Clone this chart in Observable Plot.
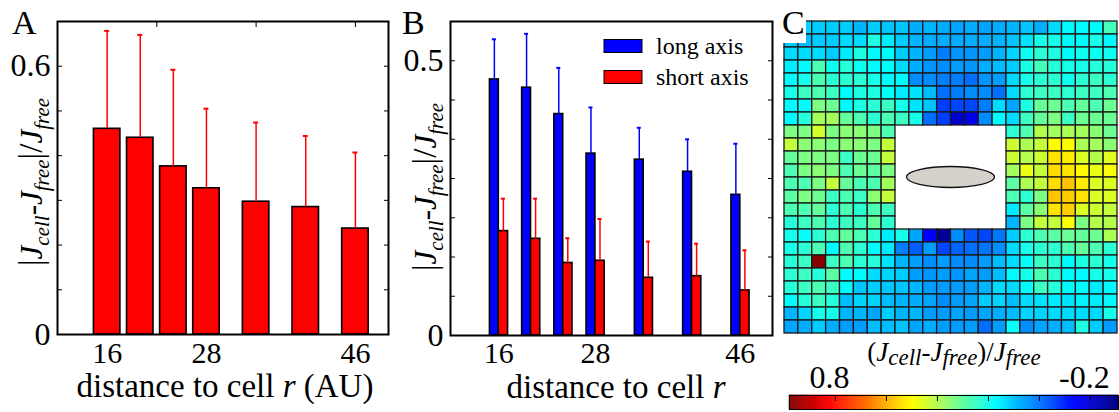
<!DOCTYPE html>
<html><head><meta charset="utf-8">
<script src="https://cdn.jsdelivr.net/npm/d3@7"></script>
<script src="https://cdn.jsdelivr.net/npm/@observablehq/plot@0.6"></script>
<style>
body{margin:0;background:#fff;}
#root{position:relative;width:1119px;height:412px;overflow:hidden;font-family:"Liberation Serif","Times New Roman",serif;background:#fff;}
#root svg{position:absolute;top:0;}
.letter{position:absolute;font-family:"Liberation Serif",serif;font-size:34px;line-height:1;background:#fff;color:#000;}
</style></head><body><div id="root"></div>
<script>
// ---------- data ----------
const distances = [16, 20, 24, 28, 34, 40, 46];
const xTickLabels = [16, 28, 46];
// Panel A: |Jcell-Jfree|/Jfree
const meanA = [0.460, 0.440, 0.376, 0.327, 0.297, 0.285, 0.237];
const errA  = [0.219, 0.230, 0.216, 0.178, 0.177, 0.159, 0.170];
// Panel B
const seriesNames = ["long axis", "short axis"];
const meanLong  = [0.466, 0.451, 0.403, 0.331, 0.320, 0.298, 0.256];
const errLong   = [0.073, 0.098, 0.084, 0.084, 0.058, 0.059, 0.093];
const meanShort = [0.190, 0.176, 0.132, 0.136, 0.105, 0.108, 0.082];
const errShort  = [0.059, 0.073, 0.045, 0.076, 0.066, 0.059, 0.073];
// Panel C: (Jcell-Jfree)/Jfree on a 24x24 grid (null = cell region)
const _ = null;
const heatRows = [
[0.12,0.12,0.11,0.11,0.11,0.08,0.11,0.10,0.10,0.07,0.08,0.07,0.06,0.07,0.06,0.07,0.08,0.10,0.07,0.13,0.17,0.17,0.17,0.26],
[0.11,0.09,0.11,0.11,0.13,0.13,0.21,0.15,0.11,0.08,0.07,0.07,0.07,0.07,0.07,0.08,0.10,0.14,0.20,0.20,0.17,0.17,0.20,0.17],
[0.13,0.13,0.13,0.11,0.15,0.21,0.17,0.17,0.11,0.08,0.05,0.01,0.04,0.04,0.05,0.08,0.12,0.19,0.23,0.21,0.17,0.19,0.19,0.19],
[0.15,0.17,0.27,0.19,0.22,0.19,0.17,0.17,0.13,0.07,0.04,0.03,0.05,0.04,0.07,0.09,0.11,0.21,0.26,0.22,0.20,0.20,0.22,0.22],
[0.17,0.20,0.27,0.23,0.23,0.23,0.20,0.17,0.17,0.03,0.03,0.01,0.01,-0.01,0.04,0.05,0.13,0.20,0.23,0.23,0.19,0.23,0.25,0.23],
[0.20,0.25,0.27,0.25,0.17,0.21,0.21,0.18,0.15,0.14,0.09,-0.01,0.01,0.03,0.03,-0.01,0.13,0.23,0.25,0.25,0.23,0.25,0.25,0.27],
[0.17,0.17,0.33,0.31,0.17,0.21,0.23,0.25,0.20,0.14,0.10,-0.07,-0.06,-0.06,0.01,0.13,0.06,0.21,0.30,0.31,0.27,0.30,0.27,0.31],
[0.17,0.22,0.38,0.38,0.30,0.27,0.23,0.27,0.25,0.20,-0.01,-0.07,-0.21,-0.17,0.03,0.17,0.13,0.25,0.30,0.33,0.25,0.31,0.31,0.31],
[0.33,0.33,0.44,0.33,0.35,0.35,0.33,0.27,_,_,_,_,_,_,_,_,0.23,0.27,0.40,0.38,0.39,0.38,0.35,0.31],
[0.42,0.35,0.35,0.33,0.35,0.35,0.33,0.42,_,_,_,_,_,_,_,_,0.43,0.39,0.42,0.50,0.50,0.39,0.38,0.35],
[0.30,0.33,0.33,0.33,0.25,0.31,0.31,0.42,_,_,_,_,_,_,_,_,0.43,0.40,0.43,0.53,0.52,0.45,0.40,0.46],
[0.27,0.33,0.35,0.33,0.27,0.31,0.29,0.33,_,_,_,_,_,_,_,_,0.38,0.47,0.42,0.54,0.53,0.50,0.47,0.49],
[0.27,0.27,0.33,0.42,0.30,0.27,0.27,0.38,_,_,_,_,_,_,_,_,0.29,0.39,0.42,0.54,0.57,0.52,0.45,0.45],
[0.29,0.33,0.31,0.25,0.27,0.25,0.35,0.42,_,_,_,_,_,_,_,_,0.27,0.23,0.33,0.57,0.56,0.53,0.45,0.45],
[0.27,0.27,0.30,0.23,0.27,0.23,0.27,0.25,_,_,_,_,_,_,_,_,0.15,0.29,0.35,0.53,0.56,0.45,0.43,0.42],
[0.22,0.25,0.27,0.23,0.25,0.25,0.30,0.23,_,_,_,_,_,_,_,_,0.08,0.33,0.42,0.42,0.49,0.33,0.40,0.40],
[0.20,0.18,0.23,0.27,0.30,0.27,0.23,0.15,0.20,0.06,-0.15,-0.28,0.03,-0.04,-0.06,0.00,0.11,0.23,0.27,0.29,0.31,0.30,0.31,0.39],
[0.20,0.23,0.27,0.17,0.27,0.23,0.17,0.15,0.01,-0.03,0.05,-0.06,-0.02,-0.01,0.00,0.03,0.13,0.20,0.23,0.23,0.27,0.30,0.27,0.23],
[0.22,0.25,0.97,0.25,0.27,0.23,0.22,0.14,0.08,0.05,0.03,0.05,0.03,0.03,0.05,0.09,0.13,0.18,0.25,0.23,0.17,0.21,0.23,0.20],
[0.23,0.25,0.22,0.29,0.17,0.17,0.13,0.12,0.11,0.05,0.04,0.05,0.04,0.06,0.05,0.09,0.17,0.20,0.27,0.23,0.17,0.17,0.20,0.20],
[0.22,0.25,0.27,0.25,0.17,0.10,0.11,0.10,0.10,0.08,0.05,0.05,0.05,0.05,0.08,0.13,0.13,0.17,0.25,0.22,0.17,0.17,0.15,0.17],
[0.17,0.22,0.25,0.22,0.09,0.12,0.12,0.09,0.08,0.07,0.06,0.03,0.05,0.06,0.11,0.12,0.09,0.13,0.14,0.15,0.14,0.16,0.15,0.17],
[0.08,0.12,0.20,0.20,0.08,0.08,0.06,0.11,0.08,0.08,0.05,0.05,0.06,0.05,0.06,0.07,0.09,0.12,0.12,0.13,0.13,0.13,0.13,0.20],
[0.06,0.07,0.11,0.07,0.05,0.05,0.09,0.09,0.10,0.06,0.07,0.05,0.05,0.05,-0.01,0.05,0.18,0.03,0.06,0.07,0.09,0.21,0.11,0.05]
];
const colorbarMax = 0.98, colorbarMin = -0.31;
const colorbarTickLabels = [0.8, -0.2];

// ---------- helpers ----------
const root = document.getElementById("root");
const SERIF = "Liberation Serif, Times New Roman, serif";
const fmt = d => d === 0 ? "0" : d3.format(".1f")(d);

function addYLabel(svg, x, yc) {
  const t = d3.select(svg).append("text")
    .attr("transform", `translate(${x},${yc}) rotate(-90)`)
    .attr("text-anchor", "middle").attr("font-family", SERIF).attr("font-size", 31).attr("fill", "#000");
  const parts = [["|", 0, false, 33], ["J", 0, true, 31], ["cell", 7, true, 21], ["-", -7, false, 31],
                 ["J", 0, true, 31], ["free", 7, true, 21], ["|/", -7, false, 33], ["J", 0, true, 31], ["free", 7, true, 21]];
  for (const [s, dy, it, fs] of parts) {
    t.append("tspan").attr("dy", dy).attr("font-style", it ? "italic" : "normal").attr("font-size", fs).text(s);
  }
}
function addText(svg, x, y, str, size, anchor = "start") {
  return d3.select(svg).append("text").attr("x", x).attr("y", y).attr("font-family", SERIF)
    .attr("font-size", size).attr("text-anchor", anchor).attr("fill", "#000").text(str);
}

// ---------- Panel A ----------
const dataA = distances.map((r, i) => ({r, m: meanA[i], e: errA[i]}));
const yTicksA = d3.range(0, 0.701, 0.1);
const plotA = Plot.plot({
  width: 392, height: 412, marginLeft: 57, marginRight: 4, marginTop: 21, marginBottom: 78,
  style: {fontFamily: SERIF, fontSize: "30px", color: "#000", background: "transparent", overflow: "visible"},
  x: {domain: [10, 50], label: null},
  y: {domain: [0, 0.7], label: null},
  marks: [
    Plot.rect(dataA, {x1: d => d.r - 1.6, x2: d => d.r + 1.6, y1: 0, y2: "m", fill: "#ff0000", stroke: "#000", strokeWidth: 1.6}),
    Plot.ruleX(dataA, {x: "r", y1: "m", y2: d => d.m + d.e, stroke: "#ff0000", strokeWidth: 1.5}),
    Plot.ruleY(dataA, {y: d => d.m + d.e, x1: d => d.r - 0.3, x2: d => d.r + 0.3, stroke: "#ff0000", strokeWidth: 2}),
    Plot.axisY({anchor: "left", ticks: [0, 0.6], tickSize: 0, tickPadding: 7, fontSize: 32, tickFormat: fmt}),
    Plot.axisY({anchor: "left", ticks: yTicksA, tickSize: -5, tickFormat: () => ""}),
    Plot.axisY({anchor: "right", ticks: yTicksA, tickSize: -5, tickFormat: () => ""}),
    Plot.axisX({anchor: "top", ticks: [22, 34, 46], tickSize: -5, tickFormat: () => ""}),
    Plot.axisX({anchor: "bottom", ticks: xTickLabels, tickSize: 0, tickPadding: 7, fontSize: 30}),
    Plot.frame({stroke: "#000", strokeWidth: 2})
  ]
});
plotA.style.left = "0px";
root.appendChild(plotA);
addYLabel(plotA, 42, 182);
addText(plotA, 225, 397, "", 33, "middle").call(t => {
  t.append("tspan").text("distance to cell ");
  t.append("tspan").attr("font-style", "italic").text("r");
  t.append("tspan").text(" (AU)");
});

// ---------- Panel B ----------
const dataB = distances.map((r, i) => ({r, ml: meanLong[i], el: errLong[i], ms: meanShort[i], es: errShort[i]}));
const yTicksB = d3.range(0, 0.58, 0.5 / 7);
const plotB = Plot.plot({
  width: 386, height: 412, marginLeft: 58, marginRight: 6, marginTop: 21, marginBottom: 77,
  style: {fontFamily: SERIF, fontSize: "30px", color: "#000", background: "transparent", overflow: "visible"},
  x: {domain: [10, 50], label: null},
  y: {domain: [0, 4 / 7], label: null},
  marks: [
    Plot.rect(dataB, {x1: d => d.r - 1.1, x2: "r", y1: 0, y2: "ml", fill: "#0000ff", stroke: "#000", strokeWidth: 1.6}),
    Plot.rect(dataB, {x1: "r", x2: d => d.r + 1.15, y1: 0, y2: "ms", fill: "#ff0000", stroke: "#000", strokeWidth: 1.6}),
    Plot.ruleX(dataB, {x: d => d.r - 0.55, y1: "ml", y2: d => d.ml + d.el, stroke: "#0000ff", strokeWidth: 1.5}),
    Plot.ruleY(dataB, {y: d => d.ml + d.el, x1: d => d.r - 0.8, x2: d => d.r - 0.3, stroke: "#0000ff", strokeWidth: 2}),
    Plot.ruleX(dataB, {x: d => d.r + 0.57, y1: "ms", y2: d => d.ms + d.es, stroke: "#ff0000", strokeWidth: 1.5}),
    Plot.ruleY(dataB, {y: d => d.ms + d.es, x1: d => d.r + 0.32, x2: d => d.r + 0.82, stroke: "#ff0000", strokeWidth: 2}),
    Plot.axisY({anchor: "left", ticks: [0, 0.5], tickSize: 0, tickPadding: 7, fontSize: 32, tickFormat: fmt}),
    Plot.axisY({anchor: "left", ticks: yTicksB, tickSize: -5, tickFormat: () => ""}),
    Plot.axisY({anchor: "right", ticks: yTicksB, tickSize: -5, tickFormat: () => ""}),
    Plot.axisX({anchor: "bottom", ticks: xTickLabels, tickSize: 0, tickPadding: 6, fontSize: 30}),
    Plot.frame({stroke: "#000", strokeWidth: 2})
  ]
});
plotB.style.left = "392px";
root.appendChild(plotB);
addYLabel(plotB, 44, 187);
addText(plotB, 224, 398, "", 33, "middle").call(t => {
  t.append("tspan").text("distance to cell ");
  t.append("tspan").attr("font-style", "italic").text("r");
});
// legend
{
  const g = d3.select(plotB).append("g");
  const cols = ["#0000ff", "#ff0000"];
  seriesNames.forEach((name, i) => {
    g.append("rect").attr("x", 212).attr("y", 39.5 + i * 31).attr("width", 38).attr("height", 13)
      .attr("fill", cols[i]).attr("stroke", "#000").attr("stroke-width", 1);
    addText(plotB, 264, 54 + i * 31, name, 24);
  });
}

// ---------- Panel C heat map ----------
const heatData = [];
heatRows.forEach((row, r) => row.forEach((v, c) => { if (v !== null) heatData.push({r, c, v}); }));
const span = colorbarMax - colorbarMin;
const jetStops = [0, 0.125, 0.375, 0.625, 0.875, 1];
const colorOpts = {
  type: "linear",
  domain: jetStops.map(t => colorbarMin + t * span),
  range: ["#00007f", "#0000ff", "#00ffff", "#ffff00", "#ff0000", "#7f0000"],
  interpolate: "rgb", clamp: true
};
const plotC = Plot.plot({
  width: 341, height: 412, marginLeft: 6, marginRight: 2, marginTop: 21, marginBottom: 79,
  style: {background: "transparent"},
  x: {type: "band", domain: d3.range(24), padding: 0, round: false, axis: null},
  y: {type: "band", domain: d3.range(24), padding: 0, round: false, axis: null},
  color: colorOpts,
  marks: [
    Plot.cell(heatData, {x: "c", y: "r", fill: "v", stroke: "#1a1a1a", strokeWidth: 1.3})
  ]
});
plotC.style.left = "778px";
root.appendChild(plotC);
{
  const xs = plotC.scale("x"), ys = plotC.scale("y");
  const cx = xs.apply(12), cy = ys.apply(12);
  d3.select(plotC).append("ellipse").attr("cx", cx).attr("cy", cy).attr("rx", 44).attr("ry", 10.5)
    .attr("fill", "#d4d0ca").attr("stroke", "#111").attr("stroke-width", 1.3);
}

// ---------- Colorbar ----------
const step = 0.004;
const samples = d3.range(colorbarMin, colorbarMax, step);
const plotCb = Plot.plot({
  width: 339, height: 82, marginLeft: 9, marginRight: 1, marginTop: 65, marginBottom: 3,
  style: {fontFamily: SERIF, fontSize: "32px", color: "#000", background: "transparent", overflow: "visible"},
  x: {domain: [colorbarMax, colorbarMin], label: null},
  color: colorOpts,
  marks: [
    Plot.rect(samples, {x1: d => d, x2: d => Math.min(d + step, colorbarMax), fill: d => d, stroke: d => d, strokeWidth: 0.6}),
    Plot.axisX({anchor: "top", ticks: d3.range(-0.2, 0.81, 0.2), tickSize: -5, tickFormat: () => ""}),
    Plot.axisX({anchor: "top", ticks: colorbarTickLabels, tickSize: 0, tickPadding: 8, dx: -6, fontSize: 32, tickFormat: d => d3.format(".1f")(d).replace("−", "-")}),
    Plot.frame({stroke: "#000", strokeWidth: 1})
  ]
});
plotCb.style.left = "780px";
plotCb.style.top = "330px";
root.appendChild(plotCb);
{
  const t = d3.select(plotCb).append("text").attr("x", 174).attr("y", 31).attr("text-anchor", "middle")
    .attr("font-family", SERIF).attr("font-size", 27).attr("fill", "#000");
  const parts = [["(", 0, false, 27], ["J", 0, true, 27], ["cell", 4, true, 23], ["-", -4, false, 27],
                 ["J", 0, true, 27], ["free", 4, true, 23], [")/", -4, false, 27], ["J", 0, true, 27], ["free", 4, true, 23]];
  for (const [s, dy, it, fs] of parts) t.append("tspan").attr("dy", dy).attr("font-style", it ? "italic" : "normal").attr("font-size", fs).text(s);
}

// ---------- panel letters ----------
for (const [L, x, y, w, h] of [["A", 12, 6, 26, 30], ["B", 402, 6, 26, 30], ["C", 780, 0, 26, 43]]) {
  const d = document.createElement("div");
  d.className = "letter"; d.textContent = L;
  d.style.left = x + "px"; d.style.top = y + "px"; d.style.width = w + "px"; d.style.height = h + "px";
  if (L === "C") { d.style.paddingTop = "6px"; d.style.boxSizing = "border-box"; d.style.paddingLeft = "2px"; }
  root.appendChild(d);
}
</script></body></html>
